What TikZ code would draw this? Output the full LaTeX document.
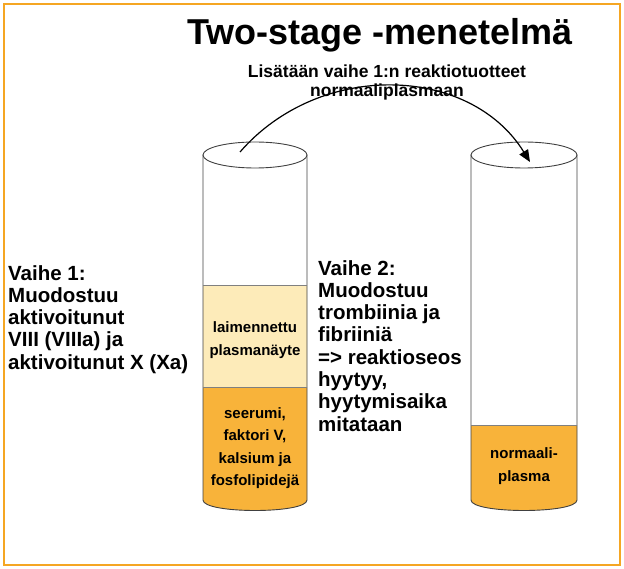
\documentclass[tikz,border=0pt]{standalone}
\usepackage{fontspec}
\setmainfont{Liberation Sans}
\usetikzlibrary{arrows.meta}
\definecolor{frame}{HTML}{F5A623}
\definecolor{lighty}{HTML}{FDEBB9}
\definecolor{orng}{HTML}{F8B33A}
\tikzset{
  lbl/.style={font=\bfseries\fontsize{20.5}{22.3}\selectfont, align=left, anchor=north west, inner sep=0pt},
  inlbl/.style={font=\bfseries\fontsize{15}{22.5}\selectfont, align=center, inner sep=0pt},
  tubeline/.style={draw=black!75, line width=0.9pt}
}
\begin{document}
\begin{tikzpicture}[x=1pt,y=-1pt]
\useasboundingbox (0,0) rectangle (624,569);
\draw[frame, line width=2pt] (4,4) rectangle (620,565);
\node (title) at (380,35) {\bfseries\fontsize{36}{38}\selectfont Two-stage -menetelmä};
\node (sub) [align=center, font=\bfseries\fontsize{17.5}{19}\selectfont] at (387,82) {Lisätään vaihe 1:n reaktiotuotteet\\normaaliplasmaan};
% left tube
\def\tube#1#2{(#1,155) -- (#1,500) .. controls (#1,514) and (#2,514) .. (#2,500) -- (#2,155) -- cycle}
\begin{scope}
\clip \tube{203}{307};
\fill[lighty] (200,285) rectangle (310,387);
\fill[orng] (200,387) rectangle (310,520);
\end{scope}
\draw[tubeline] \tube{203}{307};
\draw[black!50] (203,285) -- (307,285) (203,387) -- (307,387);
\draw[tubeline, fill=white] (255,155) ellipse [x radius=52, y radius=13];
\node (lt) [inlbl] at (255,340) {laimennettu\\plasmanäyte};
\node (lb) [inlbl] at (255,448) {seerumi,\\faktori V,\\kalsium ja\\fosfolipidejä};
% right tube
\begin{scope}
\clip \tube{471}{577};
\fill[orng] (468,425) rectangle (580,520);
\end{scope}
\draw[tubeline] \tube{471}{577};
\draw[black!50] (471,425) -- (577,425);
\draw[tubeline, fill=white] (524,155) ellipse [x radius=53, y radius=13];
\node (rb) [inlbl] at (524,466) {normaali-\\plasma};
% arrow
\coordinate (a1) at (240,152);
\coordinate (a2) at (530,162);
\draw[line width=1.2pt, -{Triangle[length=12pt,width=10pt]}] (a1) .. controls (320,60) and (470,65) .. (a2);
% texts
\node (v1) [lbl] at (8,265) {Vaihe 1:\\Muodostuu\\aktivoitunut\\VIII (VIIIa) ja\\aktivoitunut X (Xa)};
\node (v2) [lbl] at (318,260) {Vaihe 2:\\Muodostuu\\trombiinia ja\\fibriiniä\\=> reaktioseos\\hyytyy,\\hyytymisaika\\mitataan};
\end{tikzpicture}
\end{document}
